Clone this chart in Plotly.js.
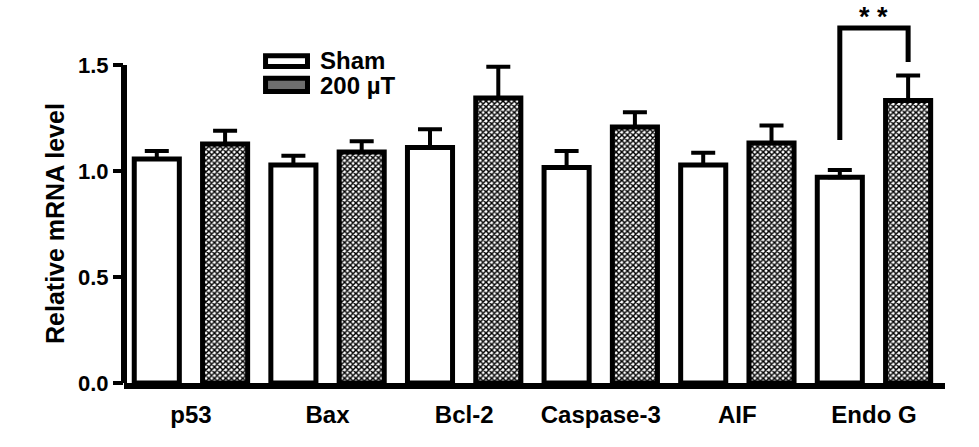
<!DOCTYPE html>
<html>
<head>
<meta charset="utf-8">
<script src="https://cdn.plot.ly/plotly-3.0.1.min.js"></script>
<style>
  html, body { margin: 0; padding: 0; background: #fff; }
  #chart { width: 979px; height: 447px; }
</style>
</head>
<body>
<div id="chart"></div>
<script>
const categories = ["p53", "Bax", "Bcl-2", "Caspase-3", "AIF", "Endo G"];
const shamMean = [1.057, 1.028, 1.111, 1.016, 1.028, 0.970];
const shamErr = [0.037, 0.044, 0.086, 0.078, 0.058, 0.035];
const treatMean = [1.127, 1.090, 1.344, 1.208, 1.132, 1.333];
const treatErr = [0.063, 0.050, 0.148, 0.069, 0.083, 0.117];
const seriesNames = ["Sham", "200 µT"];
const yTicks = [0, 0.5, 1.0, 1.5];

// significance bracket for Endo G
const sigIndex = 5;
const sigLabel = "**";
const bracketTop = 1.675;
const bracketLeftEnd = 1.146;
const bracketRightEnd = 1.514;

const FONT = "Arial, 'Liberation Sans', sans-serif";
const OFFSET = 0.25;
const BAR_W = 0.33;

const shamX = categories.map((_, i) => i - OFFSET);
const treatX = categories.map((_, i) => i + OFFSET);
const xRange = [-0.49, 5.52];

const barLine = { color: "#000", width: 5 };
const errStyle = (arr) => ({
  type: "data", symmetric: false, array: arr,
  arrayminus: arr.map(() => 0),
  color: "#000", thickness: 4, width: 12,
});

const traces = [
  {
    type: "bar", name: seriesNames[0], x: shamX, y: shamMean, width: BAR_W,
    marker: { color: "#fff", line: barLine },
    error_y: errStyle(shamErr),
  },
  {
    type: "bar", name: seriesNames[1], x: treatX, y: treatMean, width: BAR_W,
    marker: {
      color: "#fff", line: barLine,
      pattern: { shape: "x", fgcolor: "#000", bgcolor: "#fff", size: 4, solidity: 0.6 },
    },
    error_y: errStyle(treatErr),
  },
];

const layout = {
  width: 979, height: 447,
  margin: { l: 124, r: 34, t: 5, b: 64 },
  paper_bgcolor: "#fff", plot_bgcolor: "#fff",
  font: { family: FONT, color: "#000" },
  barmode: "overlay",
  showlegend: false,
  xaxis: {
    range: xRange, tickvals: categories.map((_, i) => i), ticktext: categories,
    ticks: "", showline: true, linecolor: "#000", linewidth: 6,
    showgrid: false, zeroline: false, ticklabelstandoff: 5,
    tickfont: { size: 24, weight: "bold" },
  },
  xaxis2: {
    overlaying: "x", anchor: "y", side: "bottom", range: xRange,
    tickvals: shamX.concat(treatX), ticks: "outside", ticklen: 10, tickwidth: 4,
    tickcolor: "#000", showticklabels: false, showline: false,
    showgrid: false, zeroline: false,
  },
  yaxis: {
    range: [0, 1.783], tickvals: yTicks, tickformat: ".1f",
    ticks: "outside", ticklen: 10, tickwidth: 4, tickcolor: "#000",
    showline: false, showgrid: false, zeroline: false,
    tickfont: { size: 22, weight: "bold" },
  },
  shapes: [
    // y axis line stops at the top tick
    { type: "line", xref: "paper", yref: "y", x0: 0, x1: 0, y0: 0, y1: yTicks[yTicks.length - 1],
      line: { color: "#000", width: 6 } },
    { type: "path", xref: "x", yref: "y", layer: "above",
      path: `M ${shamX[sigIndex]},${bracketLeftEnd} V ${bracketTop} H ${treatX[sigIndex]} V ${bracketRightEnd}`,
      line: { color: "#000", width: 5 } },
    // legend swatches
    { type: "rect", xref: "paper", yref: "paper", x0: 0.1724, x1: 0.2235, y0: 0.837, y1: 0.866,
      fillcolor: "#fff", line: { color: "#000", width: 5 } },
    { type: "rect", xref: "paper", yref: "paper", x0: 0.1724, x1: 0.2235, y0: 0.771, y1: 0.806,
      fillcolor: "#6e6e6e", line: { color: "#000", width: 5 } },
  ],
  annotations: [
    { text: "Relative mRNA level", xref: "paper", yref: "y", x: 0, y: 0.75,
      xshift: -69, xanchor: "center", yanchor: "middle", textangle: -90, showarrow: false,
      font: { size: 25, weight: "bold" } },
    { text: sigLabel.split("").join(" "), xref: "x", yref: "paper", x: sigIndex, y: 1,
      yanchor: "top", yshift: 5, showarrow: false, font: { size: 27, weight: "bold" } },
    { text: seriesNames[0], xref: "paper", yref: "paper", x: 0.2363, y: 0.852,
      xanchor: "left", yanchor: "middle", showarrow: false,
      font: { size: 24, weight: "bold" } },
    { text: seriesNames[1], xref: "paper", yref: "paper", x: 0.2363, y: 0.788,
      xanchor: "left", yanchor: "middle", showarrow: false,
      font: { size: 24, weight: "bold" } },
  ],
};

Plotly.newPlot("chart", traces, layout, { displayModeBar: false, staticPlot: true });
</script>
</body>
</html>
